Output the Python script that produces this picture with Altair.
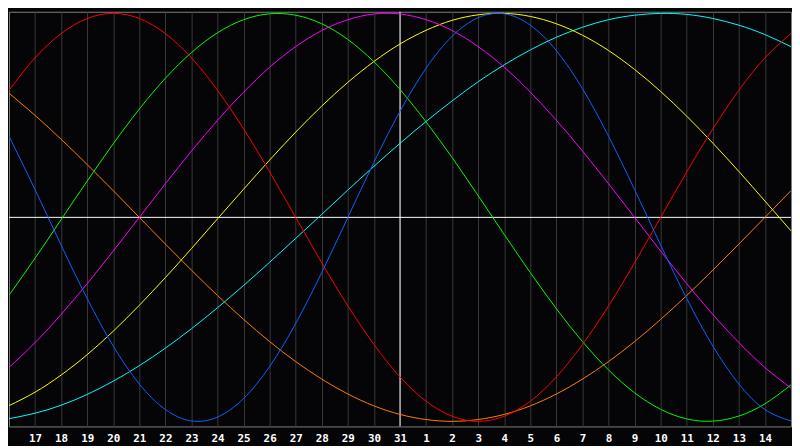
import altair as alt
import pandas as pd

# day index across the chart (0 = left edge, 30 = right edge)
days = list(range(31))
day_labels = ["16", "17", "18", "19", "20", "21", "22", "23", "24", "25", "26",
              "27", "28", "29", "30", "31", "1", "2", "3", "4", "5", "6", "7",
              "8", "9", "10", "11", "12", "13", "14", "15"]
grid_days = list(range(1, 30))
today = [15]

physical = [0.398, 0.136, -0.136, -0.398, -0.631, -0.817, -0.942, -0.998, -0.979, -0.888,
            -0.731, -0.520, -0.270, 0.000, 0.270, 0.520, 0.731, 0.888, 0.979, 0.998,
            0.942, 0.817, 0.631, 0.398, 0.136, -0.136, -0.398, -0.631, -0.817, -0.942, -0.998]
emotional = [0.623, 0.782, 0.901, 0.975, 1.000, 0.975, 0.901, 0.782, 0.623, 0.434,
             0.223, 0.000, -0.223, -0.434, -0.623, -0.782, -0.901, -0.975, -1.000, -0.975,
             -0.901, -0.782, -0.623, -0.434, -0.223, 0.000, 0.223, 0.434, 0.623, 0.782, 0.901]
intellectual = [-0.382, -0.200, -0.011, 0.178, 0.361, 0.531, 0.682, 0.808, 0.905, 0.969,
                0.998, 0.991, 0.949, 0.872, 0.763, 0.627, 0.468, 0.293, 0.106, -0.084,
                -0.271, -0.448, -0.609, -0.748, -0.860, -0.941, -0.988, -0.999, -0.974, -0.914, -0.821]
intuitive = [-0.736, -0.614, -0.476, -0.325, -0.165, 0.000, 0.165, 0.325, 0.476, 0.614,
             0.736, 0.837, 0.916, 0.969, 0.997, 0.997, 0.969, 0.916, 0.837, 0.736,
             0.614, 0.476, 0.325, 0.165, 0.000, -0.165, -0.325, -0.476, -0.614, -0.736, -0.837]
aesthetic = [-0.923, -0.857, -0.773, -0.673, -0.558, -0.431, -0.295, -0.153, -0.007, 0.138,
             0.281, 0.418, 0.546, 0.662, 0.764, 0.850, 0.917, 0.966, 0.993, 1.000,
             0.985, 0.949, 0.893, 0.818, 0.725, 0.617, 0.496, 0.364, 0.225, 0.080, -0.066]
awareness = [0.609, 0.500, 0.383, 0.259, 0.131, 0.000, -0.131, -0.259, -0.383, -0.500,
             -0.609, -0.707, -0.793, -0.866, -0.924, -0.966, -0.991, -1.000, -0.991, -0.966,
             -0.924, -0.866, -0.793, -0.707, -0.609, -0.500, -0.383, -0.259, -0.131, 0.000, 0.131]
spiritual = [-0.987, -0.960, -0.921, -0.868, -0.803, -0.727, -0.641, -0.546, -0.443, -0.334,
             -0.220, -0.103, 0.015, 0.134, 0.250, 0.363, 0.470, 0.571, 0.665, 0.748,
             0.821, 0.883, 0.932, 0.969, 0.991, 1.000, 0.995, 0.975, 0.942, 0.896, 0.837]

series_names = ["Awareness", "Spiritual", "Aesthetic", "Intuitive", "Intellectual", "Emotional", "Physical"]
series_values = [awareness, spiritual, aesthetic, intuitive, intellectual, emotional, physical]
series_colors = ["#ff8000", "#00ffff", "#ffff00", "#ff00ff", "#00ff00", "#ff0000", "#0a64ff"]

rows = []
for name, vals in zip(series_names, series_values):
    for d, v in zip(days, vals):
        rows.append({"t": d, "v": v, "series": name})
df = pd.DataFrame(rows)

label_expr = "[" + ",".join("'%s'" % s for s in day_labels) + "][datum.value]"

x_scale = alt.Scale(domain=[0, 30], nice=False, zero=False)
y_scale = alt.Scale(domain=[-1.025, 1.008], nice=False, zero=False)

x_axis = alt.Axis(values=grid_days, labelExpr=label_expr, grid=True,
                  gridColor="#3a3a3a", gridWidth=1, domain=False, ticks=False,
                  labelColor="#ffffff", labelFont="DejaVu Sans Mono",
                  labelFontWeight="bold", labelFontSize=11, labelPadding=6,
                  labelFlush=False, labelOverlap=False, title=None)

grid_layer = alt.Chart(pd.DataFrame({"t": grid_days})).mark_rule(opacity=0).encode(
    x=alt.X("t:Q", scale=x_scale, axis=x_axis)
)

vrule = alt.Chart(pd.DataFrame({"t": today})).mark_rule(color="#ffffff", strokeWidth=1).encode(
    x=alt.X("t:Q", scale=x_scale, axis=x_axis)
)
hrule = alt.Chart(pd.DataFrame({"v": [0.0]})).mark_rule(color="#ffffff", strokeWidth=1).encode(
    y=alt.Y("v:Q", scale=y_scale, axis=None)
)

lines = alt.Chart(df).mark_line(strokeWidth=1, interpolate="natural", clip=True).encode(
    x=alt.X("t:Q", scale=x_scale, axis=x_axis),
    y=alt.Y("v:Q", scale=y_scale, axis=None),
    color=alt.Color("series:N", scale=alt.Scale(domain=series_names, range=series_colors), legend=None),
    order=alt.Order("t:Q"),
)

chart = alt.layer(grid_layer, vrule, hrule, lines).properties(
    width=792, height=420, padding=0, background="#050508"
).configure_view(
    fill="#050508", stroke="#808080", strokeWidth=1
)

chart.save("out.html", embed_options={"renderer": "svg", "actions": False})
